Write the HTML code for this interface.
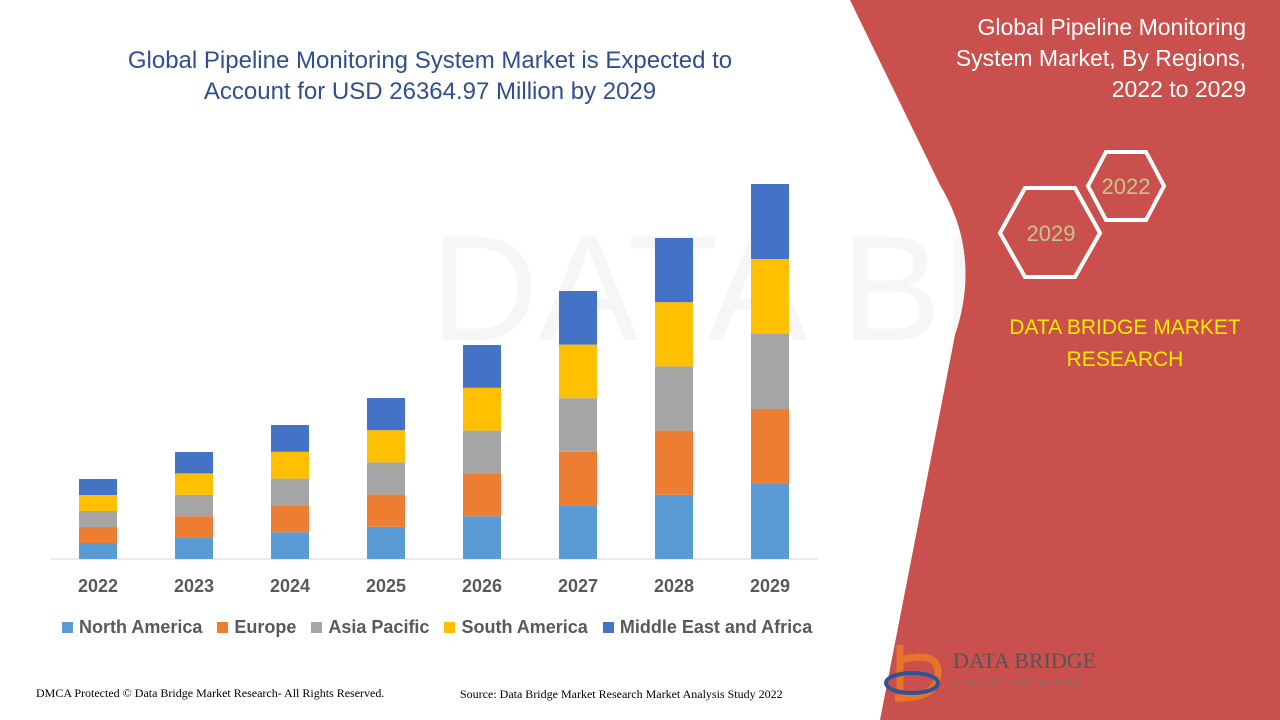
<!DOCTYPE html>
<html><head><meta charset="utf-8"><style>
body{margin:0;width:1280px;height:720px;overflow:hidden;background:#fff;font-family:"Liberation Sans",sans-serif;position:relative}
.t{position:absolute;white-space:nowrap}
</style></head><body>
<svg width="1280" height="720" style="position:absolute;left:0;top:0">
<text x="430" y="340" font-size="150" fill="#f6f6f6" font-family="Liberation Sans">DATA BRIDGE</text>
<path d="M850,0 L940,185 Q982,255 955,335 L880,720 L1280,720 L1280,0 Z" fill="#c9504c"/>
<line x1="50" y1="559" x2="818" y2="559" stroke="#d9d9d9" stroke-width="1"/>
<g id="bars"></g>
<polygon points="1000,233 1025,188 1075,188 1100,233 1075,277 1025,277" fill="none" stroke="#fff" stroke-width="4"/>
<polygon points="1088,186 1106,152 1146,152 1164,186 1146,220 1106,220" fill="none" stroke="#fff" stroke-width="4"/>
<text x="1051" y="241" font-size="22" fill="#c8c48e" text-anchor="middle">2029</text>
<text x="1126" y="194" font-size="22" fill="#c8c48e" text-anchor="middle">2022</text>
<path d="M900,645 L900,690 M900,660 Q940,650 938,675 Q935,700 895,698" fill="none" stroke="#e8742c" stroke-width="7"/>
<ellipse cx="912" cy="683" rx="26" ry="10" fill="none" stroke="#2f5496" stroke-width="4"/>
<text x="953" y="668" font-size="22" fill="#555" font-family="Liberation Serif">DATA BRIDGE</text>
<text x="953" y="685" font-size="7" fill="#777" letter-spacing="4">MARKET RESEARCH</text>
</svg>
<div class="t" style="left:0;width:860px;top:45px;text-align:center;font-size:24px;line-height:31px;color:#2f4f8f">Global Pipeline Monitoring System Market is Expected to<br>Account for USD 26364.97 Million by 2029</div>
<div class="t" style="right:34px;top:12px;text-align:right;font-size:23px;line-height:31px;color:#fff">Global Pipeline Monitoring<br>System Market, By Regions,<br>2022 to 2029</div>
<div class="t" style="left:980px;width:290px;top:312px;text-align:center;font-size:21px;line-height:32px;color:#ffeb00">DATA BRIDGE MARKET<br>RESEARCH</div>
<div class="t" style="left:36px;top:686px;font-size:12px;font-family:'Liberation Serif',serif;color:#000">DMCA Protected © Data Bridge Market Research- All Rights Reserved.</div>
<div class="t" style="left:460px;top:687px;font-size:12px;font-family:'Liberation Serif',serif;color:#000">Source: Data Bridge Market Research Market Analysis Study 2022</div>
<div id="x"></div>
<div class="t" style="left:62px;top:617px;font-size:18px;font-weight:bold;color:#595959;display:flex;gap:15px;align-items:center">
<span><i style="display:inline-block;width:11px;height:11px;background:#5b9bd5;margin-right:6px"></i>North America</span>
<span><i style="display:inline-block;width:11px;height:11px;background:#ed7d31;margin-right:6px"></i>Europe</span>
<span><i style="display:inline-block;width:11px;height:11px;background:#a5a5a5;margin-right:6px"></i>Asia Pacific</span>
<span><i style="display:inline-block;width:11px;height:11px;background:#ffc000;margin-right:6px"></i>South America</span>
<span><i style="display:inline-block;width:11px;height:11px;background:#4472c4;margin-right:6px"></i>Middle East and Africa</span>
</div>
<script>
var tops=[479,452,425,398,345,291,238,184],cols=['#5b9bd5','#ed7d31','#a5a5a5','#ffc000','#4472c4'],g=document.getElementById('bars'),s='',h='';
tops.forEach(function(t,i){var cx=98+96*i,seg=(559-t)/5;for(var k=0;k<5;k++){var y=559-seg*(k+1);s+='<rect x="'+(cx-19)+'" y="'+y+'" width="38" height="'+seg+'" fill="'+cols[k]+'"/>';}
h+='<div class="t" style="left:'+(cx-30)+'px;width:60px;text-align:center;top:576px;font-size:18px;font-weight:bold;color:#595959">'+(2022+i)+'</div>';});
g.innerHTML=s;document.getElementById('x').innerHTML=h;
</script>
</body></html>
